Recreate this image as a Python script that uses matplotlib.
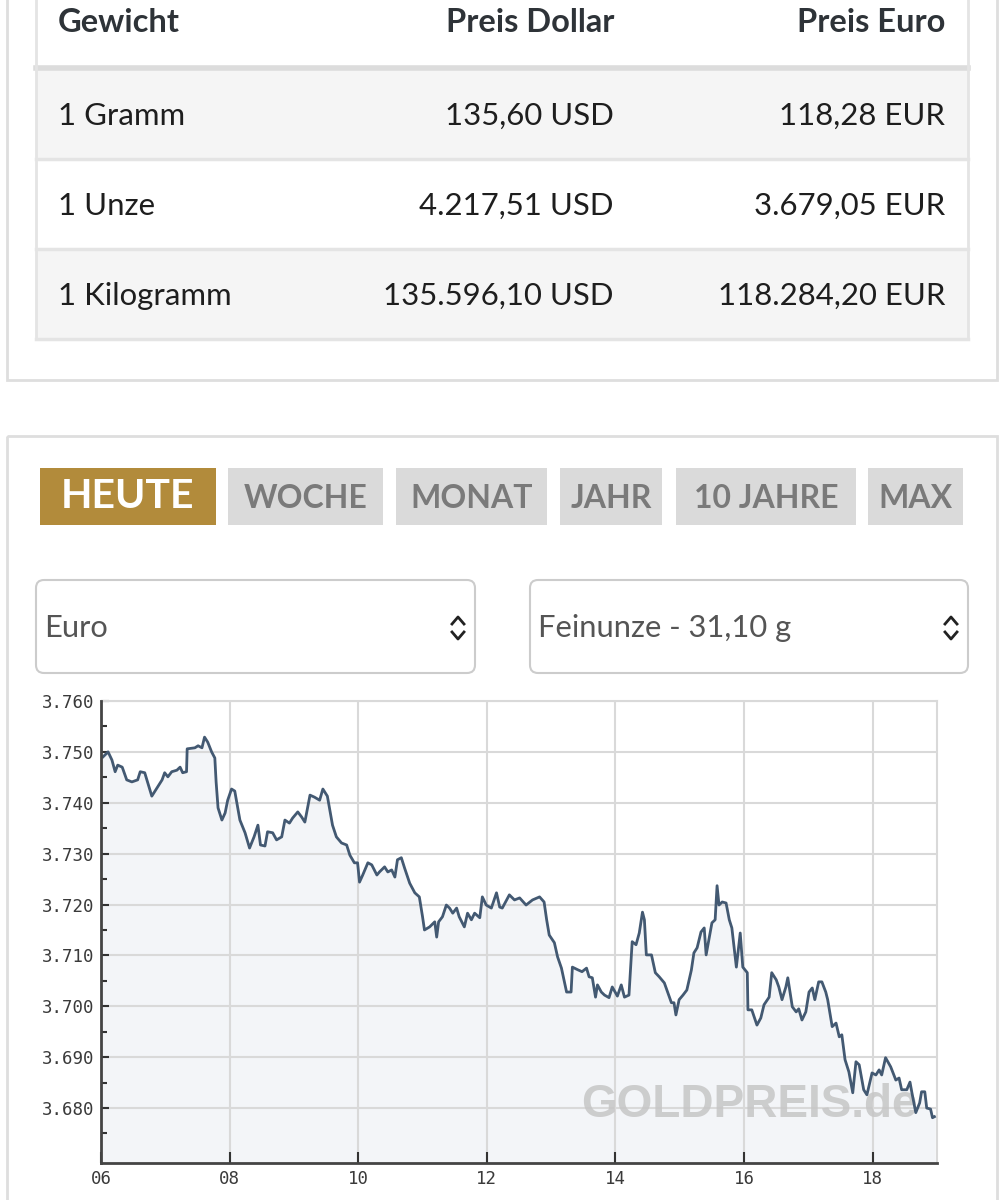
import matplotlib
matplotlib.use("Agg")
import matplotlib.pyplot as plt
from matplotlib.patches import Rectangle, FancyBboxPatch
from matplotlib.ticker import FixedLocator, FuncFormatter

# table content
tableHeader = ["Gewicht", "Preis Dollar", "Preis Euro"]
weights = ["1 Gramm", "1 Unze", "1 Kilogramm"]
pricesUsd = ["135,60 USD", "4.217,51 USD", "135.596,10 USD"]
pricesEur = ["118,28 EUR", "3.679,05 EUR", "118.284,20 EUR"]

# period buttons
buttons = ["HEUTE", "WOCHE", "MONAT", "JAHR", "10 JAHRE", "MAX"]
currency = "Euro"
unit = "Feinunze - 31,10 g"

# intraday gold price in EUR per ounce (hour of day, price)
hours = [6.03, 6.11, 6.17, 6.22, 6.26, 6.33, 6.40, 6.48, 6.57, 6.61, 6.68, 6.79, 6.87, 6.95, 6.99,
         7.04, 7.10, 7.18, 7.23, 7.27, 7.33, 7.34, 7.46, 7.51, 7.57, 7.61, 7.66, 7.72, 7.77, 7.79,
         7.82, 7.88, 7.93, 7.97, 8.03, 8.08, 8.11, 8.16, 8.24, 8.31, 8.38, 8.44, 8.48, 8.55, 8.59,
         8.67, 8.73, 8.81, 8.86, 8.93, 8.98, 9.06, 9.12, 9.17, 9.25, 9.32, 9.40, 9.45, 9.52, 9.60,
         9.66, 9.74, 9.82, 9.87, 9.94, 9.99, 10.02, 10.07, 10.15, 10.21, 10.29, 10.33, 10.41, 10.46,
         10.52, 10.57, 10.61, 10.67, 10.72, 10.80, 10.88, 10.95, 11.00, 11.03, 11.11, 11.19, 11.22,
         11.25, 11.31, 11.37, 11.42, 11.47, 11.53, 11.57, 11.65, 11.70, 11.76, 11.81, 11.89, 11.93,
         11.99, 12.07, 12.15, 12.20, 12.24, 12.35, 12.43, 12.51, 12.61, 12.71, 12.82, 12.89, 12.93,
         12.97, 13.05, 13.10, 13.16, 13.24, 13.31, 13.33, 13.41, 13.48, 13.55, 13.59, 13.64, 13.69,
         13.72, 13.78, 13.83, 13.90, 13.95, 14.03, 14.09, 14.14, 14.21, 14.26, 14.32, 14.37, 14.42,
         14.45, 14.48, 14.56, 14.62, 14.68, 14.76, 14.80, 14.87, 14.91, 14.94, 14.99, 15.05, 15.11,
         15.18, 15.22, 15.27, 15.33, 15.38, 15.41, 15.46, 15.50, 15.55, 15.58, 15.61, 15.66, 15.72,
         15.77, 15.81, 15.88, 15.94, 15.98, 16.05, 16.06, 16.12, 16.20, 16.26, 16.31, 16.39, 16.43,
         16.50, 16.54, 16.59, 16.65, 16.68, 16.75, 16.81, 16.85, 16.90, 16.96, 17.01, 17.06, 17.10,
         17.16, 17.21, 17.27, 17.30, 17.37, 17.43, 17.48, 17.52, 17.57, 17.63, 17.69, 17.74, 17.79,
         17.86, 17.91, 17.99, 18.05, 18.10, 18.14, 18.20, 18.28, 18.36, 18.41, 18.45, 18.53, 18.58,
         18.61, 18.67, 18.73, 18.76, 18.81, 18.84, 18.90, 18.93, 18.96]
prices = [3749.0, 3750.0, 3748.4, 3746.1, 3747.4, 3747.0, 3744.5, 3744.1, 3744.5, 3746.1, 3745.9,
          3741.3, 3742.9, 3744.5, 3745.9, 3745.1, 3746.1, 3746.4, 3747.0, 3745.9, 3746.1, 3750.6,
          3750.8, 3751.2, 3750.8, 3752.9, 3751.9, 3750.0, 3748.8, 3744.1, 3739.0, 3736.6, 3738.0,
          3740.5, 3742.7, 3742.3, 3740.2, 3736.6, 3734.1, 3731.1, 3733.3, 3735.6, 3731.7, 3731.5,
          3734.3, 3734.1, 3732.7, 3733.3, 3736.6, 3736.0, 3737.0, 3738.2, 3737.2, 3736.2, 3741.5,
          3741.1, 3740.5, 3742.7, 3741.3, 3735.6, 3733.3, 3732.1, 3731.7, 3729.7, 3728.2, 3728.2,
          3724.4, 3725.8, 3728.2, 3727.8, 3725.8, 3726.4, 3727.4, 3726.4, 3726.8, 3725.4, 3728.8,
          3729.2, 3727.2, 3724.2, 3722.3, 3721.5, 3717.6, 3715.0, 3715.6, 3716.6, 3713.6, 3716.6,
          3717.6, 3719.9, 3719.3, 3718.3, 3719.3, 3717.6, 3715.6, 3718.3, 3717.0, 3718.3, 3717.4,
          3721.5, 3719.9, 3719.3, 3722.3, 3719.5, 3719.3, 3721.9, 3720.9, 3721.3, 3719.9, 3720.9,
          3721.5, 3720.5, 3717.0, 3714.0, 3712.5, 3709.7, 3707.5, 3702.8, 3702.8, 3707.7, 3707.2,
          3706.8, 3707.5, 3705.8, 3705.6, 3701.8, 3704.2, 3702.8, 3702.2, 3701.7, 3703.8, 3702.0,
          3704.2, 3701.8, 3702.2, 3712.7, 3712.1, 3714.4, 3718.5, 3717.0, 3710.1, 3710.1, 3706.6,
          3705.8, 3704.6, 3703.2, 3700.7, 3700.7, 3698.3, 3701.3, 3702.2, 3703.2, 3707.1, 3710.5,
          3711.5, 3714.6, 3715.4, 3710.1, 3713.6, 3716.4, 3717.0, 3723.7, 3719.9, 3720.5, 3720.3,
          3717.0, 3715.4, 3707.7, 3714.4, 3707.7, 3706.6, 3699.3, 3699.3, 3696.3, 3697.7, 3700.3,
          3701.8, 3706.6, 3705.2, 3703.8, 3701.3, 3703.8, 3705.6, 3699.9, 3698.9, 3699.5, 3697.3,
          3698.9, 3702.8, 3703.6, 3701.3, 3704.8, 3704.8, 3702.8, 3701.3, 3696.0, 3696.7, 3694.0,
          3694.4, 3689.5, 3687.1, 3683.0, 3689.1, 3688.5, 3683.6, 3682.6, 3686.9, 3686.5, 3687.5,
          3686.5, 3689.9, 3688.1, 3685.5, 3685.9, 3683.6, 3683.6, 3685.1, 3683.0, 3679.1, 3681.0,
          3683.2, 3683.2, 3680.0, 3679.8, 3678.1, 3678.3]

hourTicks = [6, 8, 10, 12, 14, 16, 18]
priceTicks = [3680, 3690, 3700, 3710, 3720, 3730, 3740, 3750, 3760]
priceMinor = [3675, 3685, 3695, 3705, 3715, 3725, 3735, 3745, 3755]

fig = plt.figure(figsize=(10.04, 12.0), dpi=100)
fig.patch.set_facecolor("white")

# page layer in pixel coordinates
page = fig.add_axes([0, 0, 1, 1])
page.set_xlim(0, 1004)
page.set_ylim(1200, 0)
page.axis("off")

border = "#dedede"
# upper card
page.add_patch(Rectangle((7, -10), 990, 390, fill=False, edgecolor=border, lw=2))
# table rows
rowTop = [70, 160, 250]
for i in range(3):
    bg = "#f5f5f5" if i != 1 else "white"
    page.add_patch(Rectangle((36, rowTop[i]), 932, 88, facecolor=bg, edgecolor="none"))
    page.plot([36, 968], [rowTop[i] + 89, rowTop[i] + 89], color="#e4e4e4", lw=2.5)
page.plot([36, 968], [68, 68], color="#dcdcdc", lw=4)
page.plot([36, 36], [-5, 339], color="#e4e4e4", lw=2)
page.plot([968, 968], [-5, 339], color="#e4e4e4", lw=2)

tf = "Lato"
page.text(58, 22, tableHeader[0], ha="left", va="center", fontsize=23.5, fontweight="bold", family=tf, color="#2e3338")
page.text(614, 22, tableHeader[1], ha="right", va="center", fontsize=23.5, fontweight="bold", family=tf, color="#2e3338")
page.text(945, 22, tableHeader[2], ha="right", va="center", fontsize=23.5, fontweight="bold", family=tf, color="#2e3338")
for i in range(3):
    yc = rowTop[i] + 46
    page.text(58, yc, weights[i], ha="left", va="center", fontsize=22.4, family=tf, color="#1e1e1e")
    page.text(614, yc, pricesUsd[i], ha="right", va="center", fontsize=22.4, family=tf, color="#1e1e1e")
    page.text(945, yc, pricesEur[i], ha="right", va="center", fontsize=22.4, family=tf, color="#1e1e1e")

# lower card
page.add_patch(Rectangle((7, 436), 990, 800, fill=False, edgecolor=border, lw=2))

# period buttons
btnX = [40, 228, 396, 560, 676, 868]
btnW = [176, 155, 151, 102, 180, 95]
for i in range(len(buttons)):
    if i == 0:
        page.add_patch(Rectangle((btnX[i], 468), btnW[i], 57, facecolor="#b28b3b", edgecolor="none"))
        page.text(btnX[i] + btnW[i] / 2, 496, buttons[i], ha="center", va="center", fontsize=29.5,
                  fontweight="bold", family=tf, color="white")
    else:
        page.add_patch(Rectangle((btnX[i], 468), btnW[i], 57, facecolor="#dadada", edgecolor="none"))
        page.text(btnX[i] + btnW[i] / 2, 499, buttons[i], ha="center", va="center", fontsize=23,
                  fontweight="bold", family=tf, color="#7a7a7a")

# dropdowns
boxes = [(36, 475, currency), (530, 968, unit)]
for x0, x1, label in boxes:
    page.add_patch(FancyBboxPatch((x0, 580), x1 - x0, 93, boxstyle="round,pad=0,rounding_size=8",
                                  facecolor="white", edgecolor="#cccccc", lw=1.5))
    page.text(x0 + 8, 628, label, ha="left", va="center", fontsize=22.2, family=tf, color="#555555")
    cx = x1 - 17
    page.plot([cx - 6, cx, cx + 6], [624, 617, 624], color="#222222", lw=2)
    page.plot([cx - 6, cx, cx + 6], [632, 639, 632], color="#222222", lw=2)

# price chart
ax = fig.add_axes([101 / 1004, 37 / 1200, 836 / 1004, 462 / 1200])
ax.set_facecolor("white")
ax.fill_between(hours, prices, 3600, color="#f3f5f8", zorder=0.2)
ax.text(0.775, 0.125, "GOLDPREIS.de", transform=ax.transAxes, ha="center", va="center",
        fontsize=33, fontweight="bold", family="Liberation Sans", color="#c6c6c6", alpha=0.85, zorder=2)
ax.plot(hours, prices, color="#435972", lw=2.0, zorder=3)

ax.set_xlim(6, 19.0)
ax.set_ylim(3669.2, 3760)
ax.set_xticks(hourTicks)
ax.set_xticklabels(["%02d" % h for h in hourTicks])
ax.yaxis.set_major_locator(FixedLocator(priceTicks))
ax.yaxis.set_minor_locator(FixedLocator(priceMinor))
ax.yaxis.set_major_formatter(FuncFormatter(lambda v, p: "3.%03d" % (int(round(v)) - 3000)))
ax.grid(True, which="major", color="#d9d9d9", lw=1.5)
ax.set_axisbelow(True)

for s in ["left", "bottom"]:
    ax.spines[s].set_color("#444444")
    ax.spines[s].set_linewidth(2)
    ax.spines[s].set_zorder(4)
for s in ["top", "right"]:
    ax.spines[s].set_color("#d9d9d9")
    ax.spines[s].set_linewidth(1.5)

ax.tick_params(axis="y", which="major", direction="in", length=6, width=1.5, color="#333333",
               labelsize=12.5, labelcolor="#3a3a3a", pad=5)
ax.tick_params(axis="y", which="minor", direction="in", length=4, width=1.5, color="#333333")
ax.tick_params(axis="x", which="major", direction="in", length=8, width=1.5, color="#333333",
               labelsize=12.5, labelcolor="#3a3a3a", pad=5)
for lbl in ax.get_xticklabels() + ax.get_yticklabels():
    lbl.set_family("DejaVu Sans Mono")

fig.savefig("out.png", dpi=100)
